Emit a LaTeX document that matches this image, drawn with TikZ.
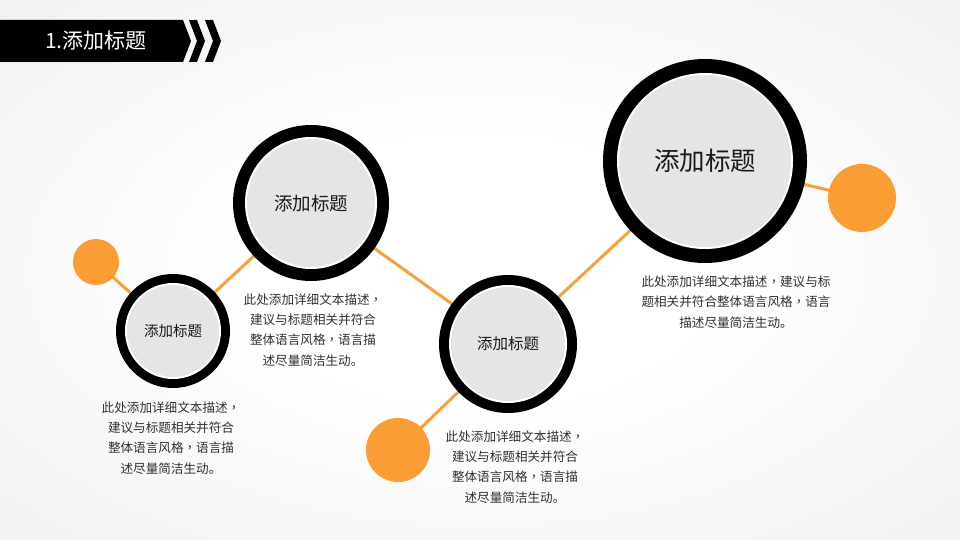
\documentclass[tikz,border=0pt]{standalone}
\usepackage{fontspec}
\setmainfont{Noto Sans CJK SC}
\newfontfamily\tcpunct{Noto Sans CJK TC}
\newcommand{\cm}{{\tcpunct ，}}
\definecolor{ringgray}{HTML}{E6E4E5}
\definecolor{orng}{HTML}{FA9D35}
\definecolor{lineor}{HTML}{F7A03E}
\definecolor{txt}{HTML}{303030}
\definecolor{bgg}{HTML}{DDDDDD}
\pgfdeclarelayer{bg}
\pgfdeclarelayer{lines}
\pgfsetlayers{bg,lines,main}
\pgfdeclareradialshading{bgshade}{\pgfpoint{0bp}{0bp}}{color(0bp)=(white); color(12bp)=(white); color(72bp)=(bgg)}
\begin{document}
\begin{tikzpicture}[x=1pt,y=-1pt,
  ringo/.style={circle, fill=black, inner sep=0pt, outer sep=0pt},
  core/.style={circle, fill=ringgray, draw=white, line width=2pt, inner sep=0pt, text=black!90},
  dot/.style={circle, fill=orng, inner sep=0pt},
  link/.style={draw=lineor, line width=3pt},
  desc/.style={align=center, font=\fontsize{12.6}{20.3}\selectfont, text=txt, inner sep=0pt},
  chev/.style={fill=black}
]
\begin{pgfonlayer}{bg}
\shade[shading=bgshade] (0,0) rectangle (960,540);
\end{pgfonlayer}
\useasboundingbox (0,0) rectangle (960,540);

% header
\fill[chev] (0,20) -- (183,20) -- (191,41) -- (183,62) -- (0,62) -- cycle;
\fill[chev] (189,20) -- (197,20) -- (205,41) -- (197,62) -- (189,62) -- (197,41) -- cycle;
\fill[chev] (205,20) -- (213,20) -- (221,41) -- (213,62) -- (205,62) -- (213,41) -- cycle;
\node[anchor=west, text=white, font=\fontsize{21}{24}\selectfont, inner sep=0pt] (hdr) at (45,41) {1.添加标题};

% orange dots
\node[dot, minimum size=46pt] (o1) at (96,262) {};
\node[dot, minimum size=64pt] (o2) at (398,450) {};
\node[dot, minimum size=68pt] (o3) at (862,198) {};

% rings
\node[ringo, minimum size=114pt] (c1) at (173,331) {};
\node[core, minimum size=94pt, font=\fontsize{14.5}{16}\selectfont] (t1) at (c1) {添加标题};

\node[ringo, minimum size=156pt] (c2) at (311,203) {};
\node[core, minimum size=130pt, font=\fontsize{18.5}{20}\selectfont] (t2) at (c2) {添加标题};

\node[ringo, minimum size=138pt] (c3) at (508,344) {};
\node[core, minimum size=116pt, font=\fontsize{15.5}{18}\selectfont] (t3) at (c3) {添加标题};

\node[ringo, minimum size=204pt] (c4) at (705,161) {};
\node[core, minimum size=174pt, font=\fontsize{25.5}{28}\selectfont] (t4) at (c4) {添加标题};

% connectors
\begin{pgfonlayer}{lines}
\draw[link] (o1.center) -- (c1.center);
\draw[link] (c1.center) -- (c2.center);
\draw[link] (c2.center) -- (c3.center);
\draw[link] (c3.center) -- (c4.center);
\draw[link] (c4.center) -- (o3.center);
\draw[link] (c3.center) -- (o2.center);
\end{pgfonlayer}

% descriptions
\node[desc] (d1) at (171,438) {此处添加详细文本描述\cm\\建议与标题相关并符合\\整体语言风格\cm 语言描\\述尽量简洁生动。};
\node[desc] (d2) at (313,330) {此处添加详细文本描述\cm\\建议与标题相关并符合\\整体语言风格\cm 语言描\\述尽量简洁生动。};
\node[desc] (d3) at (515,467) {此处添加详细文本描述\cm\\建议与标题相关并符合\\整体语言风格\cm 语言描\\述尽量简洁生动。};
\node[desc] (d4) at (736,302) {此处添加详细文本描述\cm 建议与标\\题相关并符合整体语言风格\cm 语言\\描述尽量简洁生动。};
\end{tikzpicture}
\end{document}
